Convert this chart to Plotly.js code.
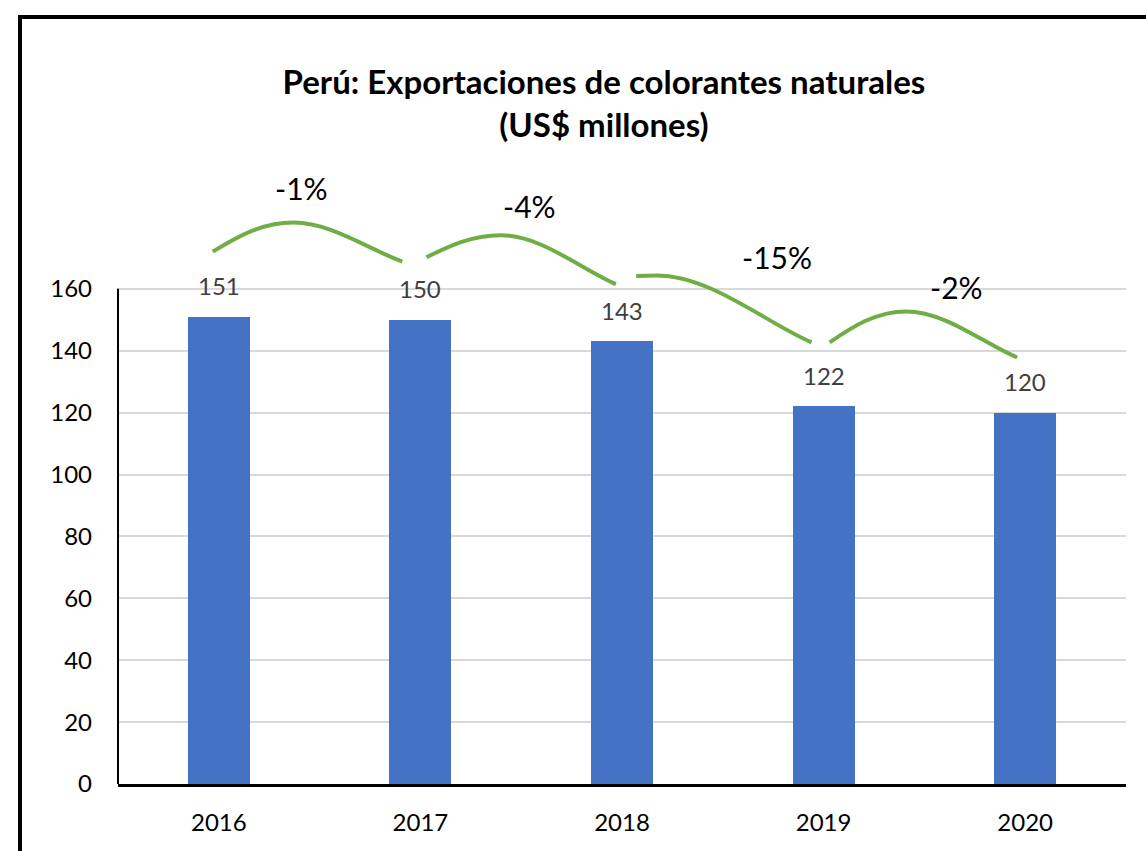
<!DOCTYPE html>
<html><head><meta charset="utf-8">
<script src="https://cdn.plot.ly/plotly-3.0.1.min.js"></script>
<style>
html,body{margin:0;padding:0;background:#fff;}
#wrap{position:relative;width:1146px;height:851px;overflow:hidden;}
#chart{position:absolute;left:0;top:0;width:1146px;height:851px;}
#frame{position:absolute;left:17.5px;top:14.5px;width:1200px;height:900px;border-left:4px solid #000;border-top:4px solid #000;pointer-events:none;box-sizing:border-box;}
</style></head>
<body><div id="wrap"><div id="chart"></div><div id="frame"></div></div>
<script>
// ---- data ----
const years = [2016, 2017, 2018, 2019, 2020];
const values = [151, 150, 143, 122, 120];
const changeLabels = ['-1%', '-4%', '-15%', '-2%'];
const yTickVals = [0, 20, 40, 60, 80, 100, 120, 140, 160];
const titleText = '<b>Perú: Exportaciones de colorantes naturales</b><br><b>(US$ millones)</b>';

// ---- decoration geometry (hand-drawn arcs between bars) ----
// start: offset from bar i (x, y above value), peak: (x offset from bar i, absolute y), end: offset from bar i+1
const arcStartDx = [-0.03, 0.03, 0.07, 0.03];
const arcStartDy = [21, 20.2, 21.1, 20.7];
const arcPeakDx = [0.37, 0.40, 0.17, 0.41];
const arcPeakY = [181.4, 177.3, 164.3, 152.7];
const arcEndDx = [-0.09, -0.03, -0.06, -0.04];
const arcEndDy = [18.8, 18.5, 20.7, 17.8];
const labelDx = [0.41, 0.54, 0.77, 0.66];
const labelY = [192.7, 186.9, 170.4, 160.6];

const FONT = 'Lato, "Open Sans", "DejaVu Sans", sans-serif';
const GREEN = '#70AD47';

function arcPath(x0, y0, xp, yp, x3, y3) {
  const dA = xp - x0, dB = x3 - xp;
  return 'M' + x0 + ',' + y0 +
    ' C' + (x0 + 0.3 * dA) + ',' + (y0 + 0.5 * (yp - y0)) + ' ' + (xp - 0.4 * dA) + ',' + yp + ' ' + xp + ',' + yp +
    ' C' + (xp + 0.35 * dB) + ',' + yp + ' ' + (x3 - 0.3 * dB) + ',' + (y3 + 0.3 * (yp - y3)) + ' ' + x3 + ',' + y3;
}

const shapes = [];
const annotations = [];

// y axis line from 0 to 160
shapes.push({type: 'line', xref: 'paper', yref: 'y', x0: 0, x1: 0, y0: 0, y1: yTickVals[yTickVals.length - 1],
  line: {color: '#000', width: 2}, layer: 'above'});

for (let i = 0; i < changeLabels.length; i++) {
  const x0 = years[i] + arcStartDx[i], y0 = values[i] + arcStartDy[i];
  const xp = years[i] + arcPeakDx[i], yp = arcPeakY[i];
  const x3 = years[i + 1] + arcEndDx[i], y3 = values[i + 1] + arcEndDy[i];
  shapes.push({type: 'path', xref: 'x', yref: 'y', path: arcPath(x0, y0, xp, yp, x3, y3),
    line: {color: GREEN, width: 4}, layer: 'above'});
  annotations.push({x: years[i] + labelDx[i], y: labelY[i], xref: 'x', yref: 'y', text: changeLabels[i],
    showarrow: false, font: {family: FONT, size: 30, color: '#000'}, xanchor: 'center', yanchor: 'middle'});
}

for (let i = 0; i < years.length; i++) {
  annotations.push({x: years[i], y: values[i], xref: 'x', yref: 'y', text: String(values[i]),
    showarrow: false, yshift: 31, yanchor: 'middle', xanchor: 'center',
    font: {family: FONT, size: 24, color: '#404040'}});
}

const trace = {
  type: 'bar', x: years, y: values, width: 0.308,
  marker: {color: '#4472C4', line: {width: 0}},
  hoverinfo: 'x+y'
};

const layout = {
  width: 1146, height: 851,
  margin: {l: 118.25, r: 20.25, t: 165.4, b: 66.7},
  paper_bgcolor: 'rgba(0,0,0,0)', plot_bgcolor: 'rgba(0,0,0,0)',
  showlegend: false,
  title: {text: titleText, x: 0.527, xref: 'container', xanchor: 'center', y: 0.889, yref: 'container', yanchor: 'middle',
    font: {family: FONT, size: 33, color: '#000'}},
  xaxis: {range: [2015.5, 2020.5], tickvals: years, ticktext: years.map(String),
    showgrid: false, zeroline: false, showline: true, linecolor: '#000', linewidth: 2.5,
    ticks: '', ticklabelstandoff: 16, tickfont: {family: FONT, size: 24, color: '#000'}},
  yaxis: {range: [0, 200], tickvals: yTickVals, ticktext: yTickVals.map(String),
    showgrid: true, gridcolor: '#D9D9D9', gridwidth: 2, zeroline: false, showline: false,
    ticks: '', ticklabelstandoff: 25, tickfont: {family: FONT, size: 24, color: '#000'}},
  shapes: shapes,
  annotations: annotations,
  bargap: 0
};

Plotly.newPlot('chart', [trace], layout, {displayModeBar: false, staticPlot: true});
</script>
</body></html>
